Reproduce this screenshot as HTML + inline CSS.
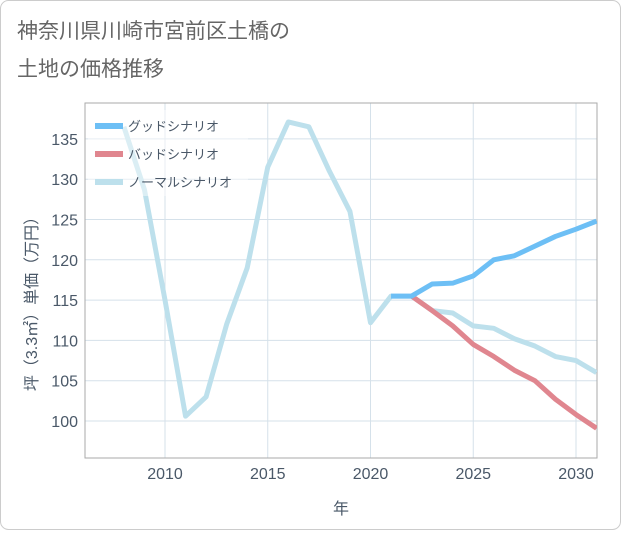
<!DOCTYPE html>
<html><head><meta charset="utf-8"><style>
body{margin:0;background:#fff;font-family:"Liberation Sans","Noto Sans CJK JP",sans-serif;}
#wrap{position:relative;width:621px;height:530px;}
</style></head><body>
<div id="wrap">
<svg id="chart" width="621" height="530"></svg>
</div>
<script>
const years=[2008,2009,2010,2011,2012,2013,2014,2015,2016,2017,2018,2019,2020,2021,2022,2023,2024,2025,2026,2027,2028,2029,2030,2031];
const normalVals=[136.5,128.7,115,100.6,103,112,119,131.5,137.1,136.5,131,126,112.2,115.5,115.5,113.7,113.4,111.8,111.5,110.2,109.3,108,107.5,106];
const goodYears=[2021,2022,2023,2024,2025,2026,2027,2028,2029,2030,2031];
const goodVals=[115.5,115.5,117,117.1,118,120,120.5,121.7,122.9,123.8,124.8];
const badYears=[2022,2023,2024,2025,2026,2027,2028,2029,2030,2031];
const badVals=[115.5,113.7,111.8,109.5,108,106.3,105,102.7,100.8,99.1];
const xTicks=[2010,2015,2020,2025,2030];
const yTicks=[100,105,110,115,120,125,130,135];
const L=85,R=597,T=103,B=458;
const X=y=>165+(y-2010)*20.55;
const Y=v=>421-(v-100)*8.06;
const NS="http://www.w3.org/2000/svg";
const svg=document.getElementById('chart');
function el(t,a,p){const e=document.createElementNS(NS,t);for(const k in a)e.setAttribute(k,a[k]);(p||svg).appendChild(e);return e;}
const bg=el('rect',{x:0.5,y:0.5,width:620,height:529,rx:8,fill:'#fff',stroke:'#ccc'});

const t1=el('text',{x:17,y:38,'font-size':21,fill:'#666'});t1.textContent='神奈川県川崎市宮前区土橋の';

const t2=el('text',{x:17,y:76,'font-size':21,fill:'#666'});t2.textContent='土地の価格推移';

const defs=el('defs',{});const cp=el('clipPath',{id:'clip'},defs);el('rect',{x:L,y:T,width:R-L,height:B-T},cp);
yTicks.forEach(v=>{const g=el('line',{x1:L,x2:R,y1:Y(v),y2:Y(v),stroke:'#d5e1ea','stroke-width':1});

const tx=el('text',{x:78,y:Y(v)+6,'text-anchor':'end','font-size':16,fill:'#4a5868'});tx.textContent=v;
});
xTicks.forEach(v=>{const g=el('line',{x1:X(v),x2:X(v),y1:T,y2:B,stroke:'#d5e1ea','stroke-width':1});

const tx=el('text',{x:X(v),y:479,'text-anchor':'middle','font-size':16,fill:'#4a5868'});tx.textContent=v;
});
const fr=el('rect',{x:L,y:T,width:R-L,height:B-T,fill:'none',stroke:'#aaa','stroke-width':1});

function line(xs,vs,c,name){const d=xs.map((x,i)=>(i?'L':'M')+X(x)+','+Y(vs[i])).join('');
const p=el('path',{d:d,fill:'none',stroke:c,'stroke-width':5,'stroke-linejoin':'round','clip-path':'url(#clip)'});
}
line(years,normalVals,'#bde0ec','normal-scenario-line');
line(badYears,badVals,'#e0868f','bad-scenario-line');
line(goodYears,goodVals,'#6dbff5','good-scenario-line');
const lb=el('rect',{x:88,y:110,width:160,height:86,fill:'#fff','fill-opacity':0.45});

[['グッドシナリオ','#6dbff5','legend-good'],['バッドシナリオ','#e0868f','legend-bad'],['ノーマルシナリオ','#bde0ec','legend-normal']].forEach((e,i)=>{
const y=126+i*28;const g=el('g',{});
el('line',{x1:95,x2:123,y1:y,y2:y,stroke:e[1],'stroke-width':6},g);
const tx=el('text',{x:128,y:y+5,'font-size':13,fill:'#4a5868'},g);tx.textContent=e[0];});
const xl=el('text',{x:341,y:514,'text-anchor':'middle','font-size':16,fill:'#4a5868'});xl.textContent='年';

const yl=el('text',{x:0,y:0,'text-anchor':'middle','font-size':16,fill:'#4a5868',transform:'translate(37,300) rotate(-90)'});yl.textContent='坪（3.3㎡）単価（万円）';

</script>
</body></html>
